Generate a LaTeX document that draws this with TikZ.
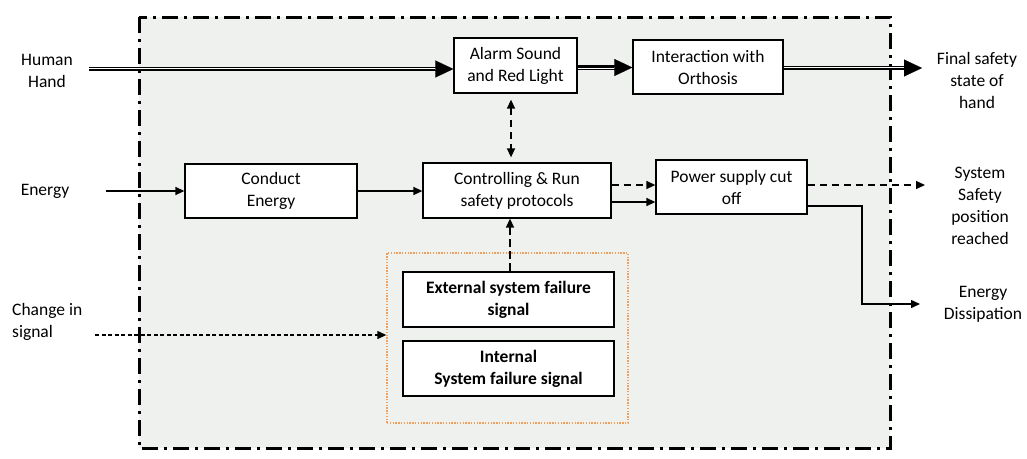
\documentclass[tikz,border=0pt]{standalone}
\usepackage{fontspec}
\setmainfont{Carlito}
\usetikzlibrary{arrows.meta}
\definecolor{bgc}{RGB}{238,241,238}
\definecolor{orng}{RGB}{240,160,90}
\begin{document}
\begin{tikzpicture}[x=1pt,y=-1pt,
  every node/.style={font=\fontsize{17.5}{22}\selectfont, align=center, inner sep=0pt},
  blk/.style={draw, line width=1.3pt, fill=white},
  sarr/.style={line width=1.4pt, -{Triangle[length=9pt,width=8pt]}},
  darr/.style={sarr, dash pattern=on 7pt off 5pt},
  dblshaft/.style={double, double distance=2pt, line width=1.4pt, shorten >=14pt},
  dbltip/.style={line width=0.1pt, -{Triangle[length=18pt,width=17pt]}},
]
\useasboundingbox (0,0) rectangle (1027,458);
\draw[line width=3pt, fill=bgc, dash pattern=on 16pt off 6pt on 3pt off 6pt] (139,17) rectangle (890,448);

% boxes
\node[blk, minimum width=123pt, minimum height=55pt] (alarm) at (515.5,65.5) {Alarm Sound\\and Red Light};
\node[blk, minimum width=150pt, minimum height=54pt] (inter) at (708,67) {Interaction with\\Orthosis};
\node[blk, minimum width=172pt, minimum height=54pt] (cond) at (271,191) {Conduct\\Energy};
\node[blk, minimum width=188pt, minimum height=55pt] (ctrl) at (517,190.5) {Controlling \& Run\\safety protocols};
\node[blk, minimum width=151pt, minimum height=54pt] (power) at (731.5,187) {Power supply cut\\off};
\node[draw=orng, line width=1.4pt, dash pattern=on 1.4pt off 1.4pt, minimum width=241pt, minimum height=170pt] (grp) at (507.5,338) {};
\node[blk, minimum width=211pt, minimum height=55pt, font=\fontsize{17.5}{22}\selectfont\bfseries] (ext) at (508.5,299.5) {External system failure\\signal};
\node[blk, minimum width=211pt, minimum height=55pt, font=\fontsize{17.5}{22}\selectfont\bfseries] (int) at (508.5,368.5) {Internal\\System failure signal};

% outside labels
\node (human) at (47,71) {Human\\Hand};
\node (energy) at (45,191) {Energy};
\node[anchor=west, align=left] (change) at (12,322) {Change in\\signal};
\node (final) at (977,80) {Final safety\\state of\\hand};
\node (sys) at (980,206) {System\\Safety\\position\\reached};
\node (diss) at (983,304) {Energy\\Dissipation};

% free ends
\coordinate (hstart) at (89,69);
\coordinate (fend) at (922,68);
\coordinate (estart) at (106,191);
\coordinate (cstart) at (95,335);
\coordinate (send) at (925,185);
\coordinate (dend) at (920,304);

% double arrows
\draw[dblshaft] (hstart) -- (hstart -| alarm.west);
\draw[dbltip] (hstart) -- (hstart -| alarm.west);
\path ([yshift=-2pt]alarm.east) coordinate (a1);
\draw[dblshaft] (a1) -- (a1 -| inter.west);
\draw[dbltip] (a1) -- (a1 -| inter.west);
\path ([yshift=-1pt]inter.east) coordinate (i1);
\draw[dblshaft] (i1) -- (i1 -| fend);
\draw[dbltip] (i1) -- (i1 -| fend);

% dashed two-way
\draw[dash pattern=on 7pt off 5pt, line width=1.4pt, {Triangle[length=9pt,width=8pt]}-{Triangle[length=9pt,width=8pt]}, shorten <=6pt, shorten >=5pt]
  ([xshift=-4.5pt]alarm.south) -- ([xshift=-6pt]ctrl.north);

% energy flow
\draw[sarr] (estart) -- (estart -| cond.west);
\draw[sarr] (cond.east) -- (cond.east -| ctrl.west);

% ctrl -> power
\path ([yshift=5.5pt]ctrl.east) coordinate (c1);
\path ([yshift=-11.5pt]ctrl.east) coordinate (c2);
\draw[darr] (c1) -- (c1 -| power.west);
\draw[sarr] (c2) -- (c2 -| power.west);

% power outputs
\path ([yshift=2pt]power.east) coordinate (p1);
\draw[darr] (p1) -- (p1 -| send);
\path ([yshift=-19pt]power.east) coordinate (p2);
\draw[sarr] (p2) -| (862,304) -- (dend);

% failure signal
\draw[darr, dash pattern=on 8pt off 4pt] ([xshift=1.5pt]ext.north) -- ([xshift=-7pt]ctrl.south);
\draw[sarr, dash pattern=on 4pt off 2.5pt] (cstart) -- (cstart -| grp.west);
\end{tikzpicture}
\end{document}
